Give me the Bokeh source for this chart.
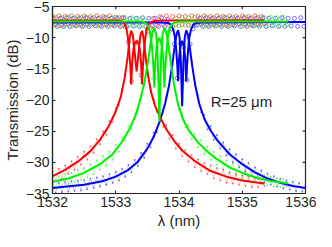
import numpy as np
from bokeh.plotting import figure
from bokeh.models import Range1d, FixedTicker, Label
from bokeh.embed import file_html
from bokeh.resources import INLINE

# ---------------- axis ticks ----------------
x_ticks = [1532, 1533, 1534, 1535, 1536]
y_ticks = [-35, -30, -25, -20, -15, -10, -5]

# ---------------- fitted curves (wavelength nm, transmission dB) ----------------
red_thru_wl = [1532.0, 1533.05, 1533.10, 1533.14, 1533.17, 1533.19, 1533.21, 1533.23, 1533.245, 1533.26,
               1533.28, 1533.30, 1533.33, 1533.36, 1533.38, 1533.40, 1533.415, 1533.43, 1533.45, 1533.47,
               1533.49, 1533.52, 1533.56, 1533.62, 1533.75, 1535.35]
red_thru_db = [-7.25, -7.25, -7.4, -7.8, -8.6, -9.8, -11.8, -14.5, -17.5, -14.0,
               -11.8, -10.9, -10.5, -10.9, -11.8, -14.0, -17.5, -14.5, -11.8, -9.8,
               -8.6, -7.8, -7.5, -7.3, -7.25, -7.2]

red_drop_wl = [1532.00, 1532.20, 1532.40, 1532.60, 1532.75, 1532.90, 1533.00, 1533.08, 1533.14, 1533.19,
               1533.22, 1533.245, 1533.27, 1533.29, 1533.31, 1533.33, 1533.35, 1533.37, 1533.39, 1533.415,
               1533.44, 1533.47, 1533.51, 1533.56, 1533.62, 1533.70, 1533.80, 1533.92, 1534.05, 1534.25,
               1534.50, 1534.75, 1535.00, 1535.20, 1535.35]
red_drop_db = [-32.2, -31.2, -29.9, -28.2, -26.4, -24.0, -21.8, -19.5, -16.5, -13.0,
               -10.0, -8.9, -9.6, -11.3, -13.5, -15.4, -13.5, -11.3, -9.6, -8.9,
               -10.0, -13.0, -16.0, -18.8, -20.9, -22.7, -24.7, -26.5, -28.1, -29.8,
               -31.4, -32.3, -32.9, -33.2, -33.4]

green_thru_wl = [1532.0, 1533.40, 1533.46, 1533.50, 1533.53, 1533.555, 1533.575, 1533.595, 1533.61, 1533.625,
                 1533.645, 1533.665, 1533.69, 1533.715, 1533.735, 1533.755, 1533.77, 1533.785, 1533.805, 1533.825,
                 1533.85, 1533.88, 1533.92, 1533.98, 1534.10, 1535.73]
green_thru_db = [-7.4, -7.4, -7.6, -7.9, -8.6, -9.8, -11.8, -14.5, -18.0, -14.0,
                 -11.8, -10.6, -10.1, -10.6, -11.8, -14.0, -18.0, -14.5, -11.8, -9.8,
                 -8.6, -7.9, -7.6, -7.45, -7.4, -7.4]

green_drop_wl = [1532.00, 1532.25, 1532.50, 1532.75, 1532.95, 1533.10, 1533.22, 1533.32, 1533.40, 1533.46,
                 1533.51, 1533.55, 1533.58, 1533.61, 1533.64, 1533.66, 1533.675, 1533.69, 1533.705, 1533.72,
                 1533.74, 1533.77, 1533.80, 1533.83, 1533.87, 1533.92, 1533.98, 1534.06, 1534.15, 1534.30,
                 1534.45, 1534.60, 1534.80, 1535.00, 1535.20, 1535.45, 1535.73]
green_drop_db = [-33.1, -32.6, -31.7, -30.3, -28.7, -26.7, -24.6, -22.3, -19.5, -16.8,
                 -13.8, -11.0, -9.2, -8.4, -9.5, -12.5, -17.0, -23.5, -17.0, -12.5,
                 -9.5, -8.4, -9.2, -11.0, -14.0, -17.5, -20.5, -23.0, -24.8, -26.8,
                 -28.3, -29.5, -30.8, -31.7, -32.4, -33.0, -33.4]

blue_thru_wl = [1532.0, 1533.735, 1533.825, 1533.875, 1533.91, 1533.935, 1533.955, 1533.973, 1533.985, 1534.0,
                1534.02, 1534.05, 1534.08, 1534.10, 1534.115, 1534.127, 1534.145, 1534.165, 1534.19, 1534.225,
                1534.275, 1534.365, 1536.0]
blue_thru_db = [-7.55, -7.55, -7.65, -7.9, -8.7, -9.9, -11.8, -14.5, -17.0, -13.5,
                -11.4, -10.5, -11.4, -13.5, -17.0, -14.5, -11.8, -9.9, -8.7, -7.9,
                -7.65, -7.55, -7.5]

blue_drop_wl = [1532.00, 1532.50, 1532.80, 1533.00, 1533.20, 1533.35, 1533.50, 1533.60, 1533.70, 1533.78,
                1533.84, 1533.89, 1533.93, 1533.96, 1533.985, 1534.01, 1534.03, 1534.05, 1534.07, 1534.09,
                1534.115, 1534.14, 1534.17, 1534.21, 1534.26, 1534.32, 1534.40, 1534.50, 1534.60, 1534.80,
                1535.00, 1535.20, 1535.40, 1535.60, 1535.80, 1536.00]
blue_drop_db = [-34.1, -33.6, -33.0, -32.3, -31.2, -29.9, -27.8, -25.9, -23.3, -20.6,
                -17.8, -14.6, -11.5, -9.5, -8.8, -10.0, -14.0, -21.0, -14.0, -10.0,
                -8.8, -9.5, -11.5, -14.6, -17.8, -20.6, -23.0, -24.9, -26.4, -28.7,
                -30.3, -31.6, -32.6, -33.3, -33.8, -34.1]

# ---------------- measured data (sampled every 0.05 nm) ----------------
data_step = 0.05
red_data_start = 1532.0
green_data_start = 1532.0
blue_data_start = 1532.0
blue_thru_data_start = 1532.025

red_thru_data = [-6.6, -7.9, -6.5, -8.0, -6.6, -7.8, -6.5, -7.9, -6.6, -8.0,
                 -6.5, -7.9, -6.6, -7.8, -6.5, -8.0, -6.6, -7.9, -6.5, -7.9,
                 -6.7, -7.9, -6.8, -8.3, -10.7, -17.0, -11.0, -10.7, -16.0, -12.8,
                 -9.0, -8.4, -6.9, -8.0, -6.6, -7.9, -6.5, -8.0, -6.6, -7.9,
                 -6.5, -7.9, -6.6, -8.0, -6.5, -7.9, -6.6, -7.8, -6.5, -8.0,
                 -6.6, -7.9, -6.5, -7.9, -6.6, -8.0, -6.5, -7.9, -6.6, -7.8,
                 -6.5, -7.9, -6.6, -8.0, -6.5, -7.9, -6.6, -7.7]

green_thru_data = [-8.0, -6.7, -8.1, -6.8, -8.0, -6.7, -8.1, -6.8, -8.0, -6.7,
                   -8.1, -6.8, -8.0, -6.7, -8.1, -6.8, -8.0, -6.7, -8.1, -6.8,
                   -8.0, -6.7, -8.1, -6.8, -8.0, -6.8, -8.1, -6.9, -8.1, -7.2,
                   -8.6, -9.8, -16.5, -11.5, -10.2, -15.0, -12.5, -8.9, -8.3, -6.9,
                   -8.1, -6.7, -8.0, -6.8, -8.1, -6.7, -8.0, -6.8, -8.1, -6.7,
                   -8.0, -6.8, -8.1, -6.7, -8.0, -6.8, -8.1, -6.7, -8.0, -6.8,
                   -8.1, -6.7, -8.0, -6.8, -8.1, -6.7, -8.0, -6.8, -8.1, -6.7,
                   -8.0, -6.8, -8.1, -6.7, -8.0]

blue_thru_data = [-6.9, -8.2, -6.9, -8.2, -6.8, -8.2, -6.9, -8.1, -6.9, -8.2,
                  -6.8, -8.2, -6.9, -8.1, -6.9, -8.2, -6.8, -8.2, -6.9, -8.1,
                  -6.9, -8.2, -6.8, -8.2, -6.9, -8.1, -6.9, -8.2, -6.8, -8.2,
                  -6.9, -8.1, -6.9, -8.2, -6.8, -8.2, -7.1, -8.6, -11.0, -16.5,
                  -11.0, -11.5, -16.8, -11.0, -8.6, -8.0, -6.9, -8.2, -6.8, -8.2,
                  -6.9, -8.1, -6.9, -8.2, -6.8, -8.2, -6.9, -8.1, -6.9, -8.2,
                  -6.8, -8.2, -6.9, -8.1, -6.9, -8.2, -6.8, -8.2, -6.9, -8.1,
                  -6.9, -8.2, -6.8, -8.2, -6.9, -8.1, -6.9, -8.2, -6.8, -8.2]

red_drop_data = [-31.6, -33.0, -31.0, -32.6, -30.5, -31.9, -29.8, -31.2, -29.1, -30.4,
                 -28.3, -29.6, -27.4, -28.5, -26.3, -27.1, -25.0, -25.6, -23.4, -23.5,
                 -21.3, -20.9, -18.2, -16.1, -11.8, -9.0, -12.6, -13.4, -9.2, -11.2,
                 -15.0, -18.2, -19.9, -21.9, -22.4, -24.3, -24.0, -26.2, -25.6, -27.8,
                 -27.0, -29.0, -28.0, -29.9, -28.8, -30.8, -29.5, -31.4, -30.1, -31.9,
                 -30.5, -32.6, -30.9, -32.9, -31.2, -33.3, -31.6, -33.4, -31.8, -33.6,
                 -32.1, -33.8, -32.3, -34.0, -32.5, -34.0, -32.7, -33.8]

green_drop_data = [-32.4, -34.0, -32.2, -33.8, -31.9, -33.5, -31.7, -33.2, -31.2, -32.8,
                   -30.9, -32.4, -30.3, -31.9, -29.7, -31.2, -29.0, -30.5, -28.3, -29.6,
                   -27.2, -28.3, -26.0, -26.6, -24.2, -24.6, -22.2, -21.8, -19.1, -17.6,
                   -14.2, -11.2, -8.6, -10.8, -20.5, -9.0, -9.4, -12.3, -16.4, -18.6,
                   -21.6, -22.1, -24.4, -24.1, -26.3, -25.4, -27.6, -26.5, -28.7, -27.5,
                   -29.6, -28.3, -30.4, -29.0, -31.0, -29.7, -31.7, -30.2, -32.1, -30.7,
                   -32.6, -31.1, -32.9, -31.4, -33.2, -31.7, -33.5, -32.0, -33.7, -32.3,
                   -33.9, -32.5, -34.0, -32.7, -33.9]

blue_drop_data = [-33.4, -34.9, -33.3, -34.8, -33.1, -34.7, -33.0, -34.6, -32.9, -34.5,
                  -32.8, -34.3, -32.6, -34.1, -32.4, -33.9, -32.2, -33.6, -31.9, -33.3,
                  -31.5, -32.9, -31.0, -32.3, -30.4, -31.6, -29.6, -30.6, -28.5, -29.3,
                  -27.0, -27.6, -25.2, -25.2, -22.8, -22.0, -19.4, -17.5, -13.6, -10.1,
                  -9.3, -19.5, -9.5, -10.9, -13.7, -17.5, -19.2, -22.0, -22.4, -24.7,
                  -24.2, -26.4, -25.6, -27.8, -26.8, -28.9, -27.9, -30.0, -28.7, -30.8,
                  -29.5, -31.5, -30.1, -32.2, -30.8, -32.7, -31.3, -33.2, -31.8, -33.6,
                  -32.2, -33.9, -32.6, -34.2, -32.9, -34.4, -33.1, -34.6, -33.3, -34.7,
                  -33.6]

RED = "#ff0000"
GREEN = "#00ee00"
BLUE = "#0000ff"
AX = "#262626"
FONT = "Liberation Sans"
TICK_DB = 0.45     # tick length in y units (~3 px)
TICK_NM = 0.045    # tick length in x units (~3 px)


def wl_grid(start, n):
    return np.round(start + data_step * np.arange(n), 4)


p = figure(width=316, height=231, x_range=Range1d(1532, 1536), y_range=Range1d(-35, -5),
           output_backend="svg", toolbar_location=None,
           min_border_left=41, min_border_right=11, min_border_top=6, min_border_bottom=35)
p.xgrid.visible = False
p.ygrid.visible = False
p.background_fill_color = "white"
p.border_fill_color = "white"
p.outline_line_color = AX
p.outline_line_width = 1.2

# measured drop-port data (dots)
for start, vals, col in [(blue_data_start, blue_drop_data, BLUE),
                         (green_data_start, green_drop_data, GREEN),
                         (red_data_start, red_drop_data, RED)]:
    xs = wl_grid(start, len(vals))
    p.line(xs, vals, line_color=col, line_width=0.6, line_alpha=0.35)
    p.scatter(xs, vals, marker="circle", size=1.8, fill_color=col, line_color=None, fill_alpha=0.55)

# measured through-port data (open circles)
for start, vals, col in [(blue_thru_data_start, blue_thru_data, BLUE),
                         (green_data_start, green_thru_data, GREEN),
                         (red_data_start, red_thru_data, RED)]:
    xs = wl_grid(start, len(vals))
    p.scatter(xs, vals, marker="circle", size=4, fill_color=None, line_color=col,
              line_width=0.7, line_alpha=0.75)

# fitted curves
for wl, db, col in [(blue_drop_wl, blue_drop_db, BLUE), (blue_thru_wl, blue_thru_db, BLUE),
                    (red_drop_wl, red_drop_db, RED), (red_thru_wl, red_thru_db, RED),
                    (green_drop_wl, green_drop_db, GREEN), (green_thru_wl, green_thru_db, GREEN)]:
    p.line(wl, db, line_color=col, line_width=2)

# axes
p.xaxis.ticker = FixedTicker(ticks=x_ticks)
p.yaxis.ticker = FixedTicker(ticks=y_ticks)
for ax in (p.xaxis[0], p.yaxis[0]):
    ax.axis_line_color = AX
    ax.axis_line_width = 1.2
    ax.major_tick_line_color = AX
    ax.major_tick_in = 3
    ax.major_tick_out = 0
    ax.minor_tick_line_color = None
    ax.major_label_text_font = FONT
    ax.major_label_text_color = AX
    ax.major_label_text_font_size = "14px"
    ax.major_label_standoff = 3
    ax.axis_label_text_font = FONT
    ax.axis_label_text_font_size = "15px"
    ax.axis_label_text_font_style = "normal"
    ax.axis_label_text_color = AX
    ax.axis_label_standoff = 2
p.xaxis.axis_label = "λ (nm)"
p.yaxis.axis_label = "Transmission (dB)"

# mirrored ticks on the top and right edges of the box
y_top = p.y_range.end
x_right = p.x_range.end
p.segment(x0=x_ticks, y0=[y_top] * len(x_ticks), x1=x_ticks, y1=[y_top - TICK_DB] * len(x_ticks),
          line_color=AX, line_width=1.2)
p.segment(x0=[x_right] * len(y_ticks), y0=y_ticks, x1=[x_right - TICK_NM] * len(y_ticks), y1=y_ticks,
          line_color=AX, line_width=1.2)

p.add_layout(Label(x=1534.5, y=-20.2, text="R=25 μm", text_baseline="middle",
                   text_font=FONT, text_font_size="15px", text_color=AX))

open("out.html", "w").write(file_html(p, INLINE))
